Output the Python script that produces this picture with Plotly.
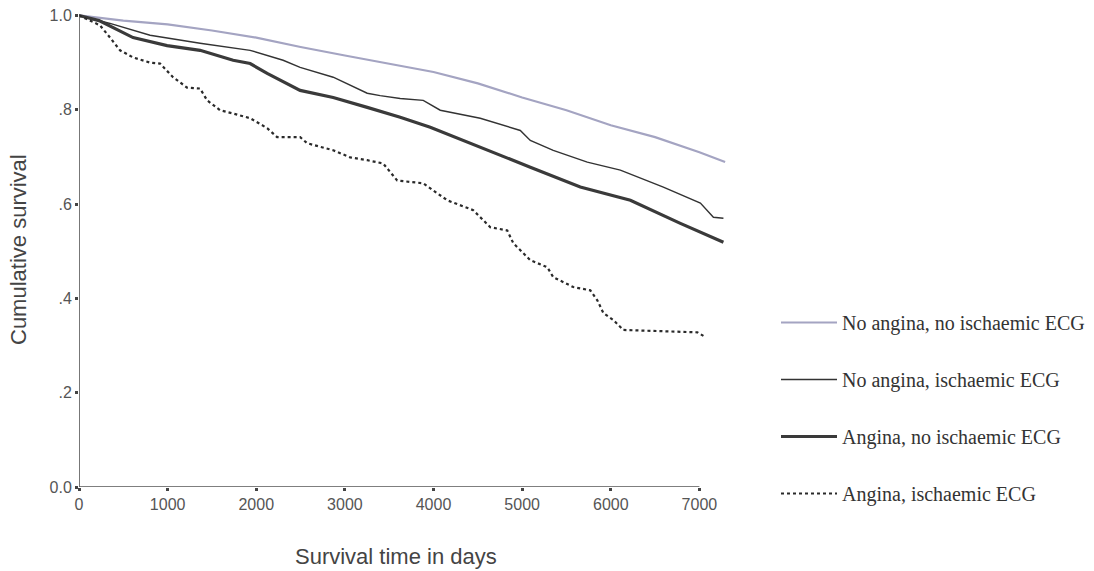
import plotly.graph_objects as go

# ---- data ----
days_a = [0, 500, 1000, 1500, 2000, 2500, 3000, 3500, 4000, 4500, 5000, 5500, 6000, 6500, 7000, 7290]
surv_a = [1.0, 0.989, 0.981, 0.968, 0.953, 0.933, 0.915, 0.898, 0.880, 0.856, 0.826, 0.799, 0.767, 0.742, 0.710, 0.689]

days_b = [0, 350, 802, 1366, 1931, 2303, 2495, 2868, 3252, 3398, 3624, 3884, 4076, 4527, 4979, 5092, 5351, 5735, 6108, 6593, 7011, 7158, 7271]
surv_b = [1.0, 0.983, 0.958, 0.941, 0.926, 0.905, 0.890, 0.869, 0.835, 0.830, 0.824, 0.820, 0.799, 0.782, 0.756, 0.735, 0.714, 0.689, 0.672, 0.636, 0.602, 0.572, 0.570]

days_c = [0, 226, 610, 994, 1366, 1739, 1931, 2123, 2495, 2868, 3252, 3624, 3963, 4527, 5092, 5656, 6221, 6785, 7271]
surv_c = [1.0, 0.989, 0.953, 0.936, 0.926, 0.905, 0.898, 0.877, 0.841, 0.826, 0.805, 0.784, 0.763, 0.720, 0.678, 0.636, 0.608, 0.559, 0.519]

days_d = [0, 237, 350, 463, 610, 802, 914, 1061, 1219, 1366, 1445, 1592, 1739, 1931, 2123, 2235, 2495, 2574, 2868,
          3060, 3252, 3432, 3590, 3884, 4155, 4448, 4640, 4832, 4900, 5092, 5284, 5351, 5577, 5769, 5848, 5916,
          6029, 6142, 6977, 7067]
surv_d = [1.0, 0.979, 0.953, 0.926, 0.911, 0.900, 0.898, 0.869, 0.847, 0.845, 0.820, 0.799, 0.792, 0.782, 0.761, 0.742, 0.742, 0.729, 0.714,
          0.699, 0.693, 0.686, 0.650, 0.644, 0.608, 0.587, 0.551, 0.544, 0.517, 0.481, 0.466, 0.445, 0.424, 0.417, 0.396, 0.369,
          0.354, 0.333, 0.328, 0.318]

series_names = ["No angina, no ischaemic ECG", "No angina, ischaemic ECG",
                "Angina, no ischaemic ECG", "Angina, ischaemic ECG"]

x_ticks = [0, 1000, 2000, 3000, 4000, 5000, 6000, 7000]
y_ticks = [0.0, 0.2, 0.4, 0.6, 0.8, 1.0]
y_ticktext = ["0.0", ".2", ".4", ".6", ".8", "1.0"]

# ---- figure ----
fig = go.Figure()
styles = [
    dict(color="#a4a4c2", width=2.2, dash="solid"),
    dict(color="#333333", width=1.4, dash="solid"),
    dict(color="#3a3a3a", width=3.2, dash="solid"),
    dict(color="#2a2a2a", width=2.2, dash="dot"),
]
for i, (xs, ys) in enumerate([(days_a, surv_a), (days_b, surv_b), (days_c, surv_c), (days_d, surv_d)]):
    fig.add_trace(go.Scatter(x=xs, y=ys, mode="lines", name=series_names[i],
                             line=styles[i], legendgroup=f"g{i}"))

axis_font = dict(family="Liberation Sans, Arial, sans-serif", size=16, color="#555555")

fig.update_layout(
    width=1094, height=571,
    paper_bgcolor="white", plot_bgcolor="white",
    margin=dict(l=79, r=368, t=6, b=84, autoexpand=False),
    showlegend=True,
    legend=dict(
        x=(776 - 79) / 647, y=(487 - 303) / 481, xanchor="left", yanchor="top",
        font=dict(family="Liberation Serif, Times New Roman, serif", size=20, color="#333333"),
        tracegroupgap=28, bgcolor="rgba(0,0,0,0)", itemwidth=56,
    ),
    xaxis=dict(
        range=[0, 7300], tickvals=x_ticks, ticks="outside", ticklen=3, tickwidth=2.5,
        tickcolor="#444444", showgrid=False, zeroline=False, showline=False,
        tickfont=axis_font, fixedrange=True, automargin=False,
    ),
    yaxis=dict(
        range=[0, 1.02], tickvals=y_ticks, ticktext=y_ticktext, ticks="outside", ticklen=3,
        tickwidth=2.5, tickcolor="#444444", showgrid=False, zeroline=False, showline=False,
        tickfont=axis_font, fixedrange=True, automargin=False,
    ),
)

# axis lines (x axis ends at 7000, y axis ends at 1.0 as in the reference)
fig.add_shape(type="line", xref="x", yref="y", x0=0, x1=7000, y0=0, y1=0,
              line=dict(color="#555555", width=1.6))
fig.add_shape(type="line", xref="x", yref="y", x0=0, x1=0, y0=0, y1=1.0,
              line=dict(color="#555555", width=1.6))

title_font = dict(family="Liberation Sans, Arial, sans-serif", size=22, color="#444444")
fig.add_annotation(text="Cumulative survival", xref="paper", yref="paper",
                   x=-(79 - 18) / 647, y=(487 - 250) / 481, showarrow=False,
                   textangle=-90, font=title_font, xanchor="center", yanchor="middle")
fig.add_annotation(text="Survival time in days", xref="paper", yref="paper",
                   x=(396 - 79) / 647, y=-(556 - 487) / 481, showarrow=False,
                   font=title_font, xanchor="center", yanchor="middle")

fig.write_html("out.html", config={"displayModeBar": False})

# remove the default page margin so the figure sits at the window's top-left corner
with open("out.html", "r", encoding="utf-8") as f:
    html = f.read()
html = html.replace("<body>", '<body style="margin:0;padding:0;">', 1)
with open("out.html", "w", encoding="utf-8") as f:
    f.write(html)
